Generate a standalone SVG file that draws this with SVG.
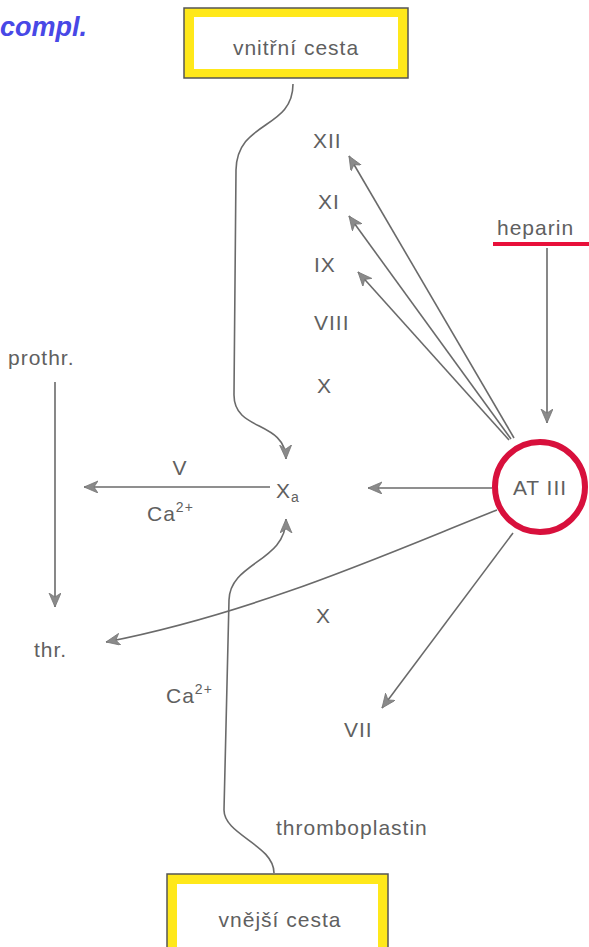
<svg xmlns="http://www.w3.org/2000/svg" width="589" height="947" viewBox="0 0 589 947">
<style>
  .lbl { font-family: "Liberation Sans", Arial, sans-serif; fill: #606060; font-size: 21px; letter-spacing: 1px; }
  .sup { font-size: 14px; }
  .con { fill: none; stroke: #6a6a6a; stroke-width: 1.6; marker-end: url(#ah); }
  .ybox { fill: #ffe81a; stroke: #555; stroke-width: 1.5; }
  .inner { fill: #ffffff; }
</style>
<defs>
  <marker id="ah" markerUnits="userSpaceOnUse" markerWidth="16" markerHeight="14" refX="14" refY="6" orient="auto">
    <path d="M0,0 L14,6 L0,12 L4,6 z" fill="#8a8a8a" stroke="#777" stroke-width="0.8"/>
  </marker>
</defs>
<rect width="589" height="947" fill="#ffffff"/>

<text x="0" y="36" font-family="Liberation Sans, Arial, sans-serif" font-size="27" font-style="italic" font-weight="bold" fill="#4848e6">compl.</text>

<g id="connectors">
  <path class="con" d="M 293 84 C 293 130, 237 120, 236 170 L 234 395 C 234 432, 285 420, 286 459"/>
  <path class="con" d="M 274 873 C 274 845, 224 835, 224 810 L 229 600 C 230 562, 286 562, 286 519"/>
  <path class="con" d="M 270 487 L 84 487"/>
  <path class="con" d="M 55 382 L 55 607"/>
  <path class="con" d="M 492 488 L 368 488"/>
  <path class="con" d="M 497 510 C 400 548, 260 612, 106 642"/>
  <path class="con" d="M 513 533 L 382 708"/>
  <path class="con" d="M 514 438 L 349 156"/>
  <path class="con" d="M 511 439 L 349 216"/>
  <path class="con" d="M 509 440 L 358 272"/>
  <path class="con" d="M 547 248 L 547 423"/>
</g>

<g id="vnitrni">
  <rect class="ybox" x="184" y="8" width="224" height="70"/>
  <rect class="inner" x="194" y="17" width="204" height="52"/>
  <text class="lbl" x="296" y="55" text-anchor="middle" font-size="22" letter-spacing="2.2">vnitřní cesta</text>
</g>

<g id="vnejsi">
  <rect class="ybox" x="167" y="874" width="221" height="80"/>
  <rect class="inner" x="177" y="884" width="201" height="70"/>
  <text class="lbl" x="280" y="927" text-anchor="middle" font-size="22" letter-spacing="2">vnější cesta</text>
</g>

<g id="at3">
  <circle cx="540" cy="487" r="45" fill="#ffffff" stroke="#d8103c" stroke-width="6"/>
  <text class="lbl" x="540" y="495" text-anchor="middle" font-size="23">AT III</text>
</g>

<g id="heparin">
  <text class="lbl" x="497" y="235" font-size="21">heparin</text>
  <line x1="493" y1="244" x2="589" y2="244" stroke="#e8103a" stroke-width="4"/>
</g>

<g id="xa"><text class="lbl" x="276" y="498">X<tspan class="sup" dy="4">a</tspan></text></g>
<g id="v"><text class="lbl" x="180" y="475" text-anchor="middle">V</text></g>
<g id="ca1"><text class="lbl" x="147" y="521">Ca<tspan class="sup" dy="-9">2+</tspan></text></g>
<g id="prothr"><text class="lbl" x="8" y="365">prothr.</text></g>
<g id="thr"><text class="lbl" x="34" y="657">thr.</text></g>
<g id="ca2"><text class="lbl" x="166" y="703">Ca<tspan class="sup" dy="-9">2+</tspan></text></g>
<g id="thrombo"><text class="lbl" x="276" y="835" font-size="22" letter-spacing="1.4">thromboplastin</text></g>
<g id="xii"><text class="lbl" x="313" y="148">XII</text></g>
<g id="xi"><text class="lbl" x="318" y="209">XI</text></g>
<g id="ix"><text class="lbl" x="314" y="272">IX</text></g>
<g id="viii"><text class="lbl" x="314" y="330">VIII</text></g>
<g id="x1"><text class="lbl" x="317" y="393">X</text></g>
<g id="x2"><text class="lbl" x="316" y="623">X</text></g>
<g id="vii"><text class="lbl" x="344" y="737">VII</text></g>
</svg>
